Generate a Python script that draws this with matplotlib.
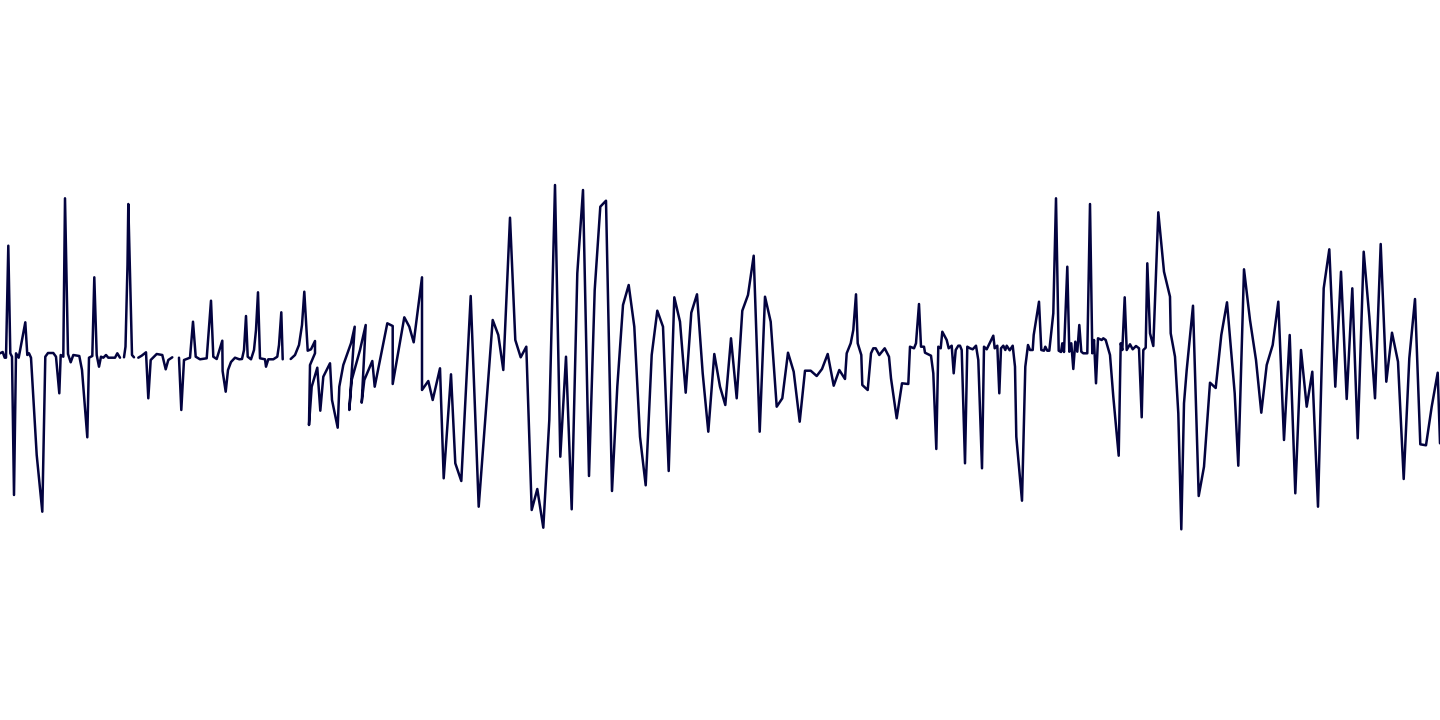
import numpy as np
import matplotlib
matplotlib.use('Agg')
import matplotlib.pyplot as plt

nan = float('nan')

# time position of each sample, nan in amp marks a break in the signal
t1 = [0, 2.7, 4.7, 6, 8.3, 10.3, 12, 14, 16, 18.7, 25.3, 27.3, 29, 31, 36.7, 42.3, 45.3, 48, 53.3, 56,
      59.3, 60.7, 63.3, 65, 68, 70.7, 73.3, 79.3, 82, 87.3, 89, 92.3, 94.3, 96.7, 99, 101, 103.3, 106, 108.3, 115,
      117.3, 120, 122, 124, 125.5, 127.5, 128.3, 132, 134, 136, 138.3, 141.7, 146, 148.3, 150.7, 156.7, 162.3, 165.7, 168.3, 172.3, 175,
      179, 181.3, 184, 190, 193, 195.7, 200, 206.7, 211, 213.3, 216.7, 222.3, 222.6, 225.7, 228, 231, 235, 239.3]
amp1 = [6.7, 8, 2.3, 2.3, 114.3, 6.7, 3.3, -135, 6.7, 2.3, 37.7, 5, 6.7, 2.3, -95, -151.7, 3.3, 7, 7, 3.3,
        -33.3, 5, 3.3, 161.7, 6, -2.3, 5, 4, -10, -77.3, 2.3, 4, 82.7, 5, -6.7, 3.3, 2.3, 5, 2.3, 2.3,
        6.7, 2.3, nan, 2.7, 13.3, 95, 156, 5, 2.7, nan, 2.3, 4.3, 7.7, -38.3, 0, 6, 5, -9.3, 0, 2.7, nan,
        2.3, -50, 0, 2.3, 38.3, 3.3, 0.7, 1.7, 59.3, 3.3, 1, 19.3, -11, -31.7, -10, -2, 2.3, 0.7]

t2 = [242, 244, 246, 247.7, 251, 254, 256, 258, 260, 265, 266, 268.3, 273.3, 277.3, 279, 281.3, 282.7, 286, 290.7, 295,
      299, 302, 304.3, 307.7,
      311, 315, 315, 310, 309, 311.7, 317.3, 320.3, 323.3, 330, 332, 337.7, 339.3, 343.3, 351, 354.7, 349.3, 351.7, 360, 365.7,
      361.7, 364.3, 372.3, 374.7, 387.3, 392.7, 392.7, 404.3, 409.3, 413.7, 422, 422, 428.3, 432.7, 440, 443.7, 451, 455.3, 461.3, 470.7,
      478.7]
amp2 = [1, 10, 44, 3.3, 0.7, 10, 30, 67.7, 1.7, 0.7, -6.7, 0.7, 0.7, 3.3, 15, 47.7, 0.7, nan, 1, 5,
        15, 35, 68.3, 9.3,
        10.7, 19, 6.7, -5, -65, -26.7, -7.7, -50.7, -16.7, -3.3, -40, -67.7, -26.7, -5, 16.7, 33.3, -50, -20, 10, 35,
        -42.7, -20, -1, -26.7, 36.7, 34, -24, 42.7, 33.3, 17.7, 82.7, -30, -21, -40, -8.3, -118.3, -14.3, -103.3, -121, 64,
        -146.7]

t3 = [492.7, 498.3, 503.3, 510, 515.3, 520.7, 526.3, 531.7, 537.3, 543.3, 549.3, 555, 560.3, 566, 571.7, 577.3, 583, 589, 594.7, 600.3,
      606, 612, 617.3, 623, 628.7, 634.3, 640, 645.7, 651.7, 657.3, 663, 668.7, 674.3, 680, 685.7, 691.3, 697, 702.7, 708.3, 714.3,
      720]
amp3 = [40, 25, -10, 142.3, 20, 2.7, 13.3, -150, -129, -167.7, -60, 175, -96.7, 3.3, -149.3, 86.7, 170, -116, 70, 153.3,
        159.3, -131, -26.7, 55, 75, 33.3, -76.7, -125.3, 5, 49.3, 33.3, -111, 62.7, 38.3, -32.7, 47.3, 65.7, -13.3, -71.7, 6,
        -26.7]

t4 = [725.3, 731, 736.7, 742.3, 748, 753.7, 759.7, 765, 770.7, 776.7, 782.3, 788, 793.7, 799.7, 805, 810.7, 816.7, 822, 827.7, 833.7,
      839.3, 845, 846.7, 850.7, 853.3, 856, 857.7, 861.3, 862.3, 867.7, 871, 873.3, 875.7, 879.3, 884.7, 889, 891, 896.7, 902, 908.3,
      910, 914, 916, 919, 921, 924, 925, 931, 933.3, 936.3, 938.3, 940.7, 942.3, 946.7, 948.7, 951.7, 953.7, 955.7, 958.3]
amp4 = [-45, 21.7, -38.3, 49.3, 65, 104.3, -71.7, 63.3, 38.3, -46.7, -38.3, 7.3, -11.7, -61.7, -10.7, -10.7, -16, -9, 6, -25.7,
        -10, -19, 6.7, 16.7, 30, 65.7, 16.7, 5, -25, -30, 6.7, 11.7, 11.7, 5, 11.7, 3.3, -18.3, -58.3, -23.3, -24,
        13.3, 11.7, 16.7, 56, 13.3, 13.3, 7.3, 4.3, -13.3, -89, 13.3, 11.7, 28.3, 20, 11.7, 14.3, -13.3, 10, 14.3]

t5 = [960, 961.7, 965, 967.3, 970, 972.7, 976, 978.3, 982, 984, 986.7, 993.3, 994.7, 997.3, 999.3, 1001, 1003.3, 1005.3, 1006.7, 1009.7,
      1012.7, 1015, 1016.3, 1022, 1025.3, 1028, 1030, 1032.7, 1033.7, 1039, 1041.3, 1044, 1045.3, 1047.3, 1049.3, 1053.3, 1056, 1058.7, 1061, 1062.3,
      1064, 1067.3, 1069.3, 1071.3, 1073.3, 1075.3, 1077.3, 1079.3, 1081.3, 1083.3, 1087.3, 1090, 1092.3, 1094, 1096, 1098, 1101.7, 1103.3, 1105.7, 1110,
      1113.3, 1118.7, 1120.7, 1122.3, 1124.7, 1126.7, 1130, 1132.7, 1136, 1139, 1141.7, 1143.3, 1145.7, 1147.3, 1150, 1153.3, 1158.3, 1164, 1170, 1170.7,
      1175, 1178.3, 1181.3, 1184, 1186.7, 1193, 1198.7]
amp5 = [14.3, 10, -103.3, 13.3, 11.7, 10.7, 14.3, 0, -108.3, 13.3, 10.7, 24.3, 11.7, 14.3, -33.3, 11.7, 14.3, 10, 14.3, 9.7,
        14.3, -6.7, -76.7, -140.7, -6.7, 15, 10, 10, 25, 58.3, 10, 9.3, 13.3, 9.3, 9.3, 46.7, 161.7, 9.3, 8, 16.7,
        8, 93.3, 8.3, 16.7, -9, 18.3, 8.3, 35, 8.3, 6.7, 6.7, 156, 6.7, 20, -23.3, 21.7, 20, 21.7, 20, 5,
        -36.7, -95.7, 16.7, 10, 62.7, 10, 15.7, 10.7, 14, 11.7, -57.3, 10, 12.3, 96.7, 26.7, 14, 147.7, 88.3, 63.3, 26.7,
        3.3, -53.3, -169.3, -43.3, -10, 54.3, -136]

t6 = [1204, 1210, 1215.7, 1221.3, 1227, 1234.7, 1238.3, 1244, 1250, 1256, 1261.3, 1266.7, 1272.7, 1278.3, 1284, 1289.7, 1295.3, 1301, 1306.7, 1312.3,
      1318, 1323.7, 1329.3, 1335.3, 1341, 1346.7, 1352.3, 1357.7, 1363.7, 1369.3, 1375, 1380.7, 1386.3, 1392, 1398, 1403.7, 1409.3, 1415, 1420.3, 1426,
      1431.7, 1437.7, 1440]
amp6 = [-106.7, -22.7, -28, 25, 57.7, -33.3, -105.7, 90.7, 40, 0, -52.7, -5, 15, 58.3, -80, 25, -133.3, 10, -46.7, -11.7,
        -146.7, 71.7, 110.7, -26.7, 88.3, -39, 71.7, -78.3, 108.3, 43.3, -38.3, 116, -21.7, 27.3, -1.7, -119, 1.7, 61, -84.3, -85.3,
        -46.7, -12.7, -83.3]

t = np.array(t1 + t2 + t3 + t4 + t5 + t6)
amp = np.array(amp1 + amp2 + amp3 + amp4 + amp5 + amp6)

fig = plt.figure(figsize=(14.4, 7.2), dpi=100)
ax = fig.add_axes([0, 0, 1, 1])
ax.plot(t, amp, color='#03033f', linewidth=1.8, solid_joinstyle='round', solid_capstyle='round')
ax.set_xlim(0, 1440)
ax.set_ylim(-360, 360)
ax.axis('off')
fig.savefig('out.png', dpi=100, facecolor='white')
